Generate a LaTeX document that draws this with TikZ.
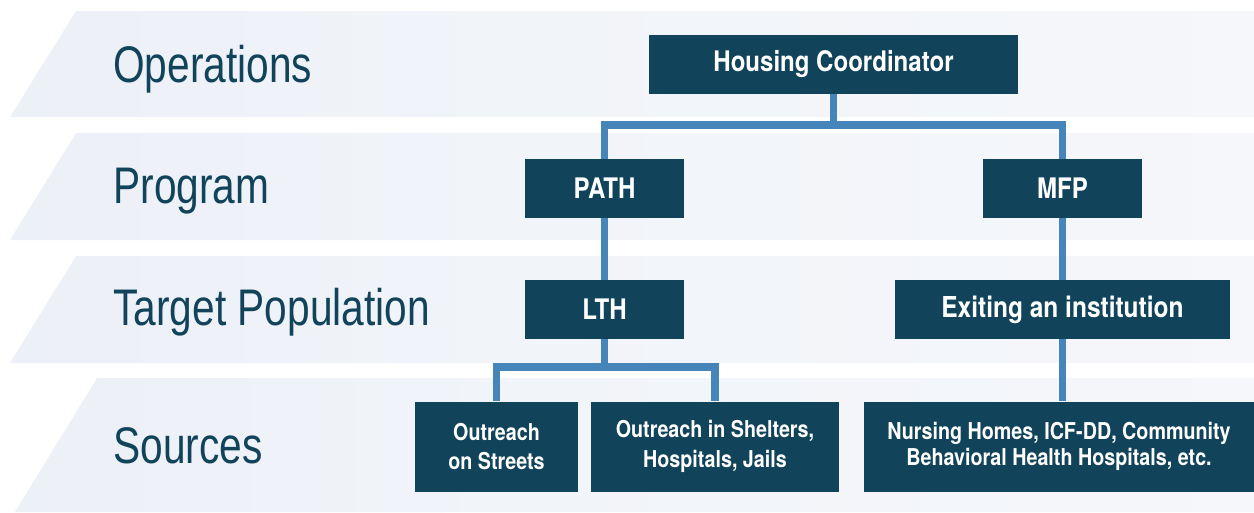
\documentclass[tikz,border=0pt]{standalone}
\usepackage{fontspec}
\usepackage{tikz}
\usetikzlibrary{positioning}

\newfontfamily\boxfont{TeX Gyre Heros}[FakeStretch=0.85]
\newfontfamily\layerfont{Liberation Sans}[FakeStretch=0.79]

\definecolor{boxteal}{HTML}{11445A}
\definecolor{linkblue}{HTML}{4585BA}
\definecolor{bandA}{HTML}{D6DEEA}
\definecolor{bandB}{HTML}{E8EDF5}
\definecolor{bandC}{HTML}{F1F4F9}
\definecolor{bandD}{HTML}{F8F9FB}
\pgfdeclarehorizontalshading{bandfade}{100bp}{color(0bp)=(bandA); color(7bp)=(bandB); color(45bp)=(bandC); color(100bp)=(bandD)}

\begin{document}
\begin{tikzpicture}[
  x=0.02cm, y=-0.02cm,
  every node/.style={inner sep=0pt, align=center},
  unit/.style={fill=boxteal, text=white, font=\boxfont\bfseries\fontsize{16.1}{18}\selectfont, minimum height=1.17cm},
  source/.style={unit, font=\boxfont\bfseries\fontsize{13.2}{17}\selectfont, minimum height=1.8cm},
  layer/.style={anchor=base west, text=boxteal, font=\layerfont\fontsize{29.3}{30}\selectfont},
  link/.style={draw=linkblue, line width=4.5pt}
]
\useasboundingbox (0,0) rectangle (1254,512);

% background bands
\foreach \t/\b/\tx/\bx in {11/117/76/10, 133/240/76/10, 256/363/76/10, 378/512/97/15}
  \shade[shading=bandfade] (\tx,\t) -- (1254,\t) -- (1254,\b) -- (\bx,\b) -- cycle;

\node[layer] (ops) at (113,82) {Operations};
\node[layer] (prog) at (113,203) {Program};
\node[layer] (target) at (113,325) {Target Population};
\node[layer] (src) at (113,463) {Sources};

\node[unit, minimum width=7.38cm] (hc) at (833.5,64.5) {Housing Coordinator};
\node[unit, minimum width=3.18cm] (path) at (604.5,188.5) {PATH};
\node[unit, minimum width=3.18cm] (mfp) at (1062.5,188.5) {MFP};
\node[unit, minimum width=3.18cm] (lth) at (604.5,309.5) {LTH};
\node[unit, minimum width=6.7cm, font=\boxfont\bfseries\fontsize{16.4}{18}\selectfont] (exit) at (1062.5,309.5) {Exiting an institution};
\node[source, minimum width=3.26cm] (streets) at (496.5,446.5) {Outreach\\on Streets};
\node[source, minimum width=4.96cm] (shelters) at (715,446.5) {Outreach in Shelters,\\Hospitals, Jails};
\node[source, minimum width=7.8cm, font=\boxfont\bfseries\fontsize{13.2}{15.2}\selectfont] (homes) at (1059,446.5) {Nursing Homes, ICF-DD, Community\\Behavioral Health Hospitals, etc.};

\coordinate (fork1) at (833.5,125);
\coordinate (fork2) at (604.5,367);

\draw[link] (hc.south) -- (fork1);
\draw[link] (path.north) |- (fork1) -| (mfp.north);
\draw[link] (path) -- (lth);
\draw[link] (mfp) -- (exit);
\draw[link] (lth.south) -- (fork2);
\draw[link] (streets.north) |- (fork2) -| (shelters.north);
\draw[link] (exit.south) -- (exit.south |- homes.north);

\end{tikzpicture}
\end{document}
